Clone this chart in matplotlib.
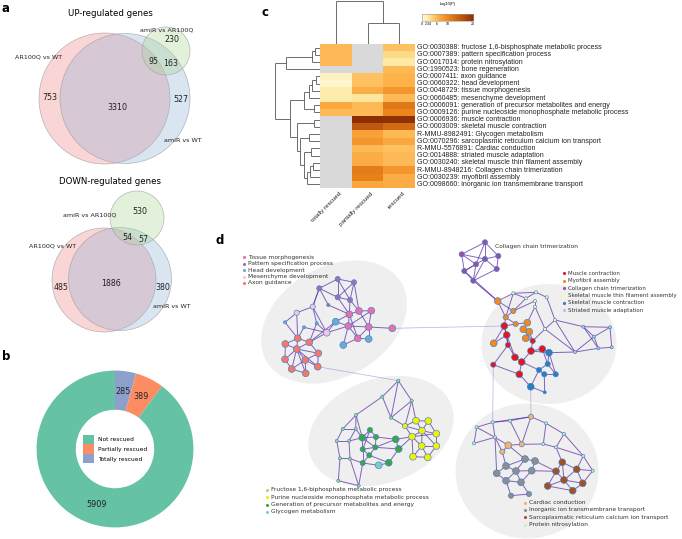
import numpy as np
import matplotlib
matplotlib.use("Agg")
import matplotlib.pyplot as plt
from matplotlib.patches import Circle, Ellipse, Patch
from matplotlib.collections import LineCollection
from matplotlib.colors import LinearSegmentedColormap

plt.rcParams['font.family'] = 'DejaVu Sans'

# ---------------- panel a : venn counts ----------------
up_sets = ['AR100Q vs WT', 'amiR vs WT', 'amiR vs AR100Q']
up_counts = {'red': 753, 'red_blue': 3310, 'blue': 527, 'green': 230, 'all': 95, 'blue_green': 163}
down_counts = {'red': 485, 'red_blue': 1886, 'blue': 380, 'green': 530, 'all': 54, 'blue_green': 57}

# ---------------- panel b : donut ----------------
rescue_labels = ['Totally rescued', 'Partially rescued', 'Not rescued']
rescue_counts = [285, 389, 5909]
rescue_colors = ['#8da0cb', '#fc8d62', '#66c2a5']

# ---------------- panel c : heatmap ----------------
terms = [
    'GO:0030388: fructose 1,6-bisphosphate metabolic process',
    'GO:0007389: pattern specification process',
    'GO:0017014: protein nitrosylation',
    'GO:1990523: bone regeneration',
    'GO:0007411: axon guidance',
    'GO:0060322: head development',
    'GO:0048729: tissue morphogenesis',
    'GO:0060485: mesenchyme development',
    'GO:0006091: generation of precursor metabolites and energy',
    'GO:0009126: purine nucleoside monophosphate metabolic process',
    'GO:0006936: muscle contraction',
    'GO:0003009: skeletal muscle contraction',
    'R-MMU-8982491: Glycogen metabolism',
    'GO:0070296: sarcoplasmic reticulum calcium ion transport',
    'R-MMU-5576891: Cardiac conduction',
    'GO:0014888: striated muscle adaptation',
    'GO:0030240: skeletal muscle thin filament assembly',
    'R-MMU-8948216: Collagen chain trimerization',
    'GO:0030239: myofibril assembly',
    'GO:0098660: inorganic ion transmembrane transport',
]
hm_cols = ['totally rescued', 'partially rescued', 'rescued']
nan = np.nan
totally = [5.5, 5.5, 5.5, nan, 1.2, 0.8, 2.0, 2.0, 7.0, 5.5, nan, nan, nan, nan, nan, nan, nan, nan, nan, nan]
partially = [nan, nan, nan, nan, 5.0, 5.0, 6.5, 2.5, 5.5, 5.5, 20.0, 15.0, 7.5, 8.5, 5.5, 6.5, 6.5, 11.0, 10.5, 7.0]
rescued = [5.0, 3.5, 2.3, 5.5, 6.0, 6.0, 8.5, 5.5, 11.5, 10.0, 19.5, 13.0, 5.5, 7.0, 5.0, 5.5, 5.5, 8.5, 6.5, 6.5]
cbar_ticks = [0, 2.34, 6, 10, 20]
# row dendrogram merges: (a, b, join x in px); ids >= 20 are earlier merges
row_merges = [(0, 1, 315), (20, 2, 312), (21, 3, 286), (4, 5, 316), (23, 6, 312),
              (24, 7, 309), (8, 9, 314), (25, 26, 304), (10, 11, 314), (12, 13, 309),
              (14, 15, 311), (16, 17, 313), (31, 18, 310), (32, 19, 307), (30, 33, 304),
              (29, 34, 300), (28, 35, 297), (27, 36, 290), (22, 37, 275)]
col_merges = [(1, 2, 23), (0, 3, 1)]

# ---------------- panel d : network ----------------
term_colors = {
    'tissue': '#eb6eb0', 'pattern': '#a070b5', 'head': '#6fa8d3', 'mesen': '#f5c6dd',
    'axon': '#f4776a', 'fructose': '#a6dc6e', 'purine': '#f2f200', 'generation': '#3aa645',
    'glycogen': '#80cdc5', 'muscle': '#e3161b', 'myofibril': '#f5871f', 'collagen': '#9a4ea6',
    'thin': '#fff9b0', 'skeletal': '#2b7cc0', 'striated': '#bfbde0', 'cardiac': '#fbb265',
    'inorganic': '#8e8e8e', 'sarco': '#a5501e', 'nitro': '#cfecc8',
}
node_area = {'S': 5, 'M': 14, 'L': 24}

tl_nodes = [
    (337.7, 279.0, 'M', 'pattern'), (354.0, 282.3, 'M', 'pattern'), (319.3, 288.3, 'M', 'pattern'),
    (337.7, 297.3, 'M', 'pattern'), (350.0, 300.0, 'M', 'pattern'), (328.3, 305.0, 'S', 'pattern'),
    (312.7, 306.7, 'M', 'mesen'), (296.7, 312.7, 'M', 'mesen'), (326.7, 332.7, 'L', 'mesen'),
    (349.3, 314.3, 'L', 'tissue'), (359.0, 311.0, 'L', 'tissue'), (371.3, 310.7, 'L', 'tissue'),
    (348.3, 326.0, 'L', 'tissue'), (368.7, 327.0, 'L', 'tissue'), (392.3, 328.3, 'L', 'tissue'),
    (357.7, 338.3, 'L', 'tissue'), (335.7, 321.7, 'L', 'head'), (343.3, 345.0, 'L', 'head'),
    (368.7, 339.0, 'L', 'head'), (316.7, 323.3, 'S', 'head'), (304.0, 327.3, 'S', 'head'),
    (285.0, 322.3, 'S', 'head'), (297.7, 338.3, 'L', 'axon'), (309.3, 342.3, 'L', 'axon'),
    (285.3, 344.0, 'L', 'axon'), (296.7, 349.0, 'L', 'axon'), (318.3, 353.3, 'L', 'axon'),
    (285.0, 359.3, 'L', 'axon'), (305.3, 360.0, 'L', 'axon'), (317.7, 366.7, 'L', 'axon'),
    (291.7, 369.0, 'L', 'axon'), (305.7, 373.3, 'L', 'axon'),
]
tl_edges = [(0, 1), (0, 2), (0, 3), (1, 3), (1, 4), (2, 3), (2, 5), (3, 4), (4, 9), (3, 9), (1, 10),
            (0, 4), (2, 6), (5, 9), (4, 10), (9, 10), (10, 11), (9, 12), (12, 13), (10, 13), (11, 13),
            (13, 14), (12, 15), (15, 13), (9, 15), (11, 12), (12, 16), (16, 9), (15, 18), (13, 18),
            (17, 12), (17, 15), (6, 7), (6, 8), (7, 21), (8, 16), (6, 2), (8, 19), (8, 23), (7, 22),
            (8, 12), (6, 19), (20, 8), (21, 22), (22, 25), (23, 25), (24, 25), (25, 26), (25, 27),
            (25, 28), (25, 29), (25, 30), (25, 31), (22, 23), (28, 29), (28, 31), (30, 31), (27, 30),
            (22, 24), (23, 26), (26, 29), (24, 27), (28, 30), (26, 28), (20, 22), (19, 23), (16, 23)]

bl_nodes = [
    (398.3, 380.7, 'S', 'fructose'), (382.3, 396.7, 'S', 'fructose'), (411.7, 400.7, 'S', 'fructose'),
    (356.0, 415.0, 'S', 'fructose'), (391.0, 417.7, 'S', 'fructose'), (342.7, 429.0, 'S', 'fructose'),
    (355.7, 429.0, 'S', 'fructose'), (336.7, 441.0, 'S', 'fructose'), (349.0, 441.0, 'S', 'fructose'),
    (340.0, 458.3, 'S', 'fructose'), (350.0, 458.7, 'S', 'fructose'), (338.3, 480.7, 'S', 'fructose'),
    (358.7, 485.7, 'S', 'fructose'), (370.0, 430.0, 'M', 'generation'), (362.3, 437.7, 'L', 'generation'),
    (376.0, 437.0, 'M', 'generation'), (362.7, 449.3, 'M', 'generation'), (375.3, 447.3, 'M', 'generation'),
    (395.7, 439.3, 'L', 'generation'), (398.7, 449.0, 'L', 'generation'), (369.3, 455.3, 'M', 'generation'),
    (362.7, 463.0, 'M', 'generation'), (388.7, 462.7, 'L', 'generation'), (378.7, 465.3, 'L', 'glycogen'),
    (416.0, 420.7, 'L', 'purine'), (428.3, 421.0, 'L', 'purine'), (405.0, 426.0, 'M', 'purine'),
    (422.0, 430.7, 'L', 'purine'), (412.0, 436.7, 'L', 'purine'), (436.3, 433.7, 'L', 'purine'),
    (421.7, 446.0, 'L', 'purine'), (436.3, 446.0, 'L', 'purine'), (413.0, 456.7, 'L', 'purine'),
    (427.7, 457.3, 'L', 'purine'),
]
bl_edges = [(0, 1), (0, 2), (1, 4), (2, 4), (1, 3), (3, 5), (3, 6), (5, 6), (5, 7), (6, 8), (7, 8),
            (7, 9), (8, 10), (9, 10), (9, 11), (10, 12), (11, 12), (0, 4), (2, 24), (4, 26), (3, 14),
            (6, 14), (8, 14), (10, 21), (12, 21), (2, 26), (13, 14), (13, 15), (14, 15), (14, 16),
            (15, 17), (16, 17), (14, 17), (16, 20), (17, 20), (20, 21), (17, 18), (18, 19), (17, 19),
            (19, 22), (20, 22), (21, 23), (22, 23), (16, 21), (13, 16), (15, 18), (18, 28), (19, 28),
            (24, 25), (24, 26), (24, 27), (25, 27), (26, 28), (27, 28), (27, 29), (28, 30), (27, 30),
            (29, 31), (30, 31), (28, 32), (30, 32), (30, 33), (31, 33), (32, 33), (26, 27), (28, 29),
            (27, 31), (25, 29)]

rt_nodes = [
    (485.0, 242.3, 'M', 'collagen'), (461.7, 254.3, 'M', 'collagen'), (498.3, 256.0, 'M', 'collagen'),
    (485.0, 259.0, 'M', 'collagen'), (476.0, 264.3, 'M', 'collagen'), (464.3, 271.0, 'M', 'collagen'),
    (496.7, 269.0, 'M', 'collagen'), (473.3, 280.7, 'M', 'collagen'), (497.7, 301.0, 'L', 'myofibril'),
    (513.3, 311.0, 'M', 'myofibril'), (505.7, 317.3, 'M', 'myofibril'), (515.7, 324.0, 'M', 'myofibril'),
    (527.3, 322.7, 'L', 'myofibril'), (523.3, 329.3, 'L', 'myofibril'), (529.3, 331.7, 'L', 'myofibril'),
    (525.7, 338.3, 'L', 'myofibril'), (493.7, 343.3, 'L', 'myofibril'), (504.3, 326.0, 'L', 'muscle'),
    (506.7, 335.0, 'L', 'muscle'), (532.7, 341.0, 'M', 'muscle'), (508.0, 345.0, 'M', 'muscle'),
    (531.0, 351.0, 'L', 'muscle'), (542.3, 349.0, 'L', 'muscle'), (515.0, 357.3, 'L', 'muscle'),
    (521.7, 362.0, 'L', 'muscle'), (493.3, 364.7, 'M', 'muscle'), (519.3, 374.3, 'L', 'muscle'),
    (549.0, 352.7, 'L', 'skeletal'), (547.7, 364.0, 'M', 'skeletal'), (539.0, 370.0, 'M', 'skeletal'),
    (544.3, 374.3, 'M', 'skeletal'), (555.7, 374.3, 'M', 'skeletal'), (530.7, 386.7, 'L', 'skeletal'),
    (544.7, 392.3, 'S', 'skeletal'), (526.0, 298.3, 'S', 'thin'), (536.0, 292.3, 'S', 'thin'),
    (535.0, 301.0, 'S', 'thin'), (546.7, 297.3, 'S', 'thin'), (535.0, 306.7, 'S', 'thin'),
    (555.0, 320.0, 'S', 'thin'), (545.0, 329.0, 'S', 'thin'), (513.3, 293.3, 'S', 'thin'),
    (583.3, 326.7, 'S', 'striated'), (610.0, 327.3, 'S', 'striated'), (594.0, 336.7, 'S', 'striated'),
    (611.7, 347.3, 'S', 'striated'), (598.3, 348.3, 'S', 'striated'), (575.0, 352.0, 'S', 'striated'),
]
rt_edges = [(0, 3), (0, 4), (0, 2), (1, 4), (1, 3), (2, 3), (3, 6), (3, 5), (4, 5), (4, 7), (5, 7),
            (6, 7), (2, 6), (1, 5), (3, 7), (0, 1), (7, 8), (5, 8), (8, 9), (8, 10), (9, 10), (10, 11),
            (11, 12), (12, 13), (13, 14), (14, 15), (11, 17), (17, 18), (10, 17), (18, 20), (17, 20),
            (16, 17), (16, 18), (20, 23), (23, 24), (24, 26), (19, 21), (21, 22), (19, 14), (15, 19),
            (18, 23), (25, 20), (25, 26), (21, 24), (22, 27), (21, 27), (13, 19), (9, 34), (9, 36),
            (12, 38), (34, 35), (35, 37), (36, 38), (37, 39), (39, 40), (40, 19), (38, 40), (41, 8),
            (41, 35), (41, 34), (10, 41), (27, 28), (28, 29), (29, 30), (30, 31), (28, 31), (27, 31),
            (29, 32), (32, 33), (30, 33), (26, 32), (24, 29), (22, 28), (42, 43), (42, 44), (43, 45),
            (44, 46), (45, 46), (42, 46), (43, 44), (39, 42), (40, 47), (47, 46), (47, 44), (27, 47),
            (39, 47)]

rb_nodes = [
    (531.0, 416.7, 'M', 'cardiac'), (508.3, 445.3, 'L', 'cardiac'), (502.3, 451.7, 'M', 'cardiac'),
    (521.7, 444.3, 'M', 'cardiac'), (474.0, 443.3, 'S', 'nitro'), (476.7, 427.3, 'S', 'nitro'),
    (492.7, 422.3, 'S', 'nitro'), (510.0, 420.7, 'S', 'nitro'), (546.0, 423.3, 'S', 'nitro'),
    (564.0, 434.0, 'S', 'nitro'), (543.3, 444.0, 'S', 'nitro'), (556.0, 447.3, 'S', 'nitro'),
    (583.3, 456.0, 'S', 'nitro'), (592.7, 470.7, 'S', 'nitro'), (495.0, 437.3, 'S', 'nitro'),
    (525.0, 459.0, 'L', 'inorganic'), (535.0, 461.0, 'L', 'inorganic'), (506.0, 466.0, 'L', 'inorganic'),
    (516.0, 471.0, 'L', 'inorganic'), (531.7, 470.7, 'L', 'inorganic'), (496.7, 473.3, 'L', 'inorganic'),
    (506.0, 480.7, 'L', 'inorganic'), (521.0, 482.3, 'L', 'inorganic'), (529.0, 494.0, 'M', 'inorganic'),
    (511.0, 495.7, 'M', 'inorganic'), (562.3, 462.3, 'L', 'sarco'), (556.0, 471.3, 'L', 'sarco'),
    (576.7, 469.3, 'L', 'sarco'), (564.0, 480.0, 'L', 'sarco'), (582.7, 483.3, 'L', 'sarco'),
    (547.7, 486.0, 'L', 'sarco'), (572.7, 490.7, 'L', 'sarco'),
]
rb_edges = [(0, 6), (0, 7), (0, 8), (0, 3), (6, 7), (5, 6), (4, 5), (4, 14), (5, 14), (14, 1), (1, 2),
            (1, 3), (2, 14), (3, 7), (6, 14), (8, 9), (8, 10), (9, 11), (10, 11), (9, 12), (11, 12),
            (12, 13), (10, 3), (1, 15), (2, 17), (15, 16), (15, 17), (15, 18), (16, 19), (17, 18),
            (18, 19), (17, 20), (18, 21), (18, 22), (19, 22), (20, 21), (21, 22), (22, 23), (21, 24),
            (23, 24), (16, 26), (19, 26), (25, 26), (25, 27), (25, 28), (26, 28), (27, 28), (27, 29),
            (28, 29), (28, 31), (29, 31), (26, 30), (28, 30), (30, 31), (11, 25), (12, 27), (13, 29),
            (13, 27), (20, 14)]

legend_tl = [('Tissue morphogenesis', 'tissue'), ('Pattern specification process', 'pattern'),
             ('Head development', 'head'), ('Mesenchyme development', 'mesen'), ('Axon guidance', 'axon')]
legend_bl = [('Fructose 1,6-biphosphate metabolic process', 'fructose'),
             ('Purine nucleoside monophosphate metabolic process', 'purine'),
             ('Generation of precursor metabolites and energy', 'generation'),
             ('Glycogen metabolism', 'glycogen')]
legend_rt = [('Muscle contraction', 'muscle'), ('Myofibril assembly', 'myofibril'),
             ('Collagen chain trimerization', 'collagen'),
             ('Skeletal muscle thin filament assembly', 'thin'),
             ('Skeletal muscle contraction', 'skeletal'), ('Striated muscle adaptation', 'striated')]
legend_rb = [('Cardiac conduction', 'cardiac'), ('Inorganic ion transmembrane transport', 'inorganic'),
             ('Sarcoplasmatic reticulum calcium ion transport', 'sarco'),
             ('Protein nitrosylation', 'nitro')]

W, H = 682, 539
fig = plt.figure(figsize=(W / 100, H / 100), dpi=100)
ax = fig.add_axes([0, 0, 1, 1])
ax.set_xlim(0, W)
ax.set_ylim(H, 0)
ax.axis('off')


def fig_rect(x0, y0, x1, y1):
    return [x0 / W, 1 - y1 / H, (x1 - x0) / W, (y1 - y0) / H]


# panel labels
for lab, (lx, ly) in zip('abcd', [(2, 8), (2, 356), (262, 13), (216, 240)]):
    ax.text(lx, ly, lab, fontsize=8.5, fontweight='bold', va='center', ha='left')


# ---------------- a ----------------
def venn(red, blue, green, counts, pos, title, title_y, label_pos):
    for (cx, cy, r), col in zip([red, blue, green], ['#f08080', '#8fb0d8', '#a8d890']):
        ax.add_patch(Circle((cx, cy), r, facecolor=col, alpha=0.33, edgecolor='none'))
        ax.add_patch(Circle((cx, cy), r, facecolor='none', edgecolor='#9a9a9a', lw=0.5, alpha=0.7))
    ax.text(110, title_y, title, fontsize=6.2, ha='center', va='center')
    for key, (tx, ty) in pos.items():
        ax.text(tx, ty, str(counts[key]), fontsize=5.7, ha='center', va='center', color='#222222')
    for name, (tx, ty) in zip(up_sets, label_pos):
        ax.text(tx, ty, name, fontsize=4.6, ha='center', va='center', color='#222222')


venn((104.5, 98.5, 65.5), (125, 98.5, 65), (166, 51, 24), up_counts,
     {'red': (50, 98), 'red_blue': (117, 107), 'blue': (181, 100), 'green': (172, 40),
      'all': (153, 61), 'blue_green': (171, 63)},
     'UP-regulated genes', 14, [(39, 57), (183, 141), (167, 30)])
venn((104, 280, 52), (120, 279, 51.5), (137, 218, 27), down_counts,
     {'red': (61, 287), 'red_blue': (111, 283), 'blue': (163, 287), 'green': (140, 212),
      'all': (127, 238), 'blue_green': (143, 239)},
     'DOWN-regulated genes', 181, [(53, 246), (172, 307), (90, 215)])

# ---------------- b ----------------
axp = fig.add_axes(fig_rect(35, 369, 195, 529))
axp.pie(rescue_counts, colors=rescue_colors, startangle=90, counterclock=False,
        labels=[str(c) for c in rescue_counts], labeldistance=0.74,
        wedgeprops=dict(width=0.5, edgecolor='none'),
        textprops=dict(fontsize=5.9, ha='center', va='center', color='#222222'))
axp.set_xlim(-1.02, 1.02)
axp.set_ylim(-1.02, 1.02)
handles = [Patch(facecolor=c, edgecolor='none') for c in rescue_colors[::-1]]
axp.legend(handles, rescue_labels[::-1], loc='center', frameon=False, fontsize=4.2,
           handlelength=1.9, handleheight=2.0, labelspacing=0.12, handletextpad=0.6,
           borderaxespad=0)

# ---------------- c ----------------
cmap = LinearSegmentedColormap.from_list('mscape', [(0, '#fffbe4'), (0.117, '#feeaa4'),
                                                     (0.3, '#fdb24a'), (0.5, '#ee861c'),
                                                     (1.0, '#8c2d04')])
cmap.set_bad('#d9d9d9')
hm = np.array([totally, partially, rescued]).T
hx0, hx1, hy0, hy1 = 320, 415, 44, 188
axh = fig.add_axes(fig_rect(hx0, hy0, hx1, hy1))
axh.imshow(np.ma.masked_invalid(hm), cmap=cmap, vmin=0, vmax=20, aspect='auto',
           interpolation='nearest')
axh.axis('off')

row_h = (hy1 - hy0) / len(terms)
col_w = (hx1 - hx0) / len(hm_cols)
for i, t in enumerate(terms):
    ax.text(hx1 + 2, hy0 + row_h * (i + 0.5), t, fontsize=5.0, family='Liberation Sans',
            va='center', ha='left', color='#222222')
for j, c in enumerate(hm_cols):
    ax.text(hx0 + col_w * (j + 0.5) + 3, hy1 + 3, c, fontsize=4.5, family='Liberation Sans',
            rotation=45, ha='right', va='top', rotation_mode='anchor', color='#222222')


def dendro(leaf_pos, base, merges, horizontal):
    pos = list(leaf_pos)
    hgt = [base] * len(leaf_pos)
    segs = []
    for a, b, h in merges:
        pa, pb = pos[a], pos[b]
        if horizontal:
            segs += [[(hgt[a], pa), (h, pa)], [(hgt[b], pb), (h, pb)], [(h, pa), (h, pb)]]
        else:
            segs += [[(pa, hgt[a]), (pa, h)], [(pb, hgt[b]), (pb, h)], [(pa, h), (pb, h)]]
        pos.append((pa + pb) / 2)
        hgt.append(h)
    ax.add_collection(LineCollection(segs, colors='#555555', linewidths=0.6))


dendro([hy0 + row_h * (i + 0.5) for i in range(len(terms))], hx0, row_merges, True)
dendro([hx0 + col_w * (j + 0.5) for j in range(len(hm_cols))], hy0, col_merges, False)

axc = fig.add_axes(fig_rect(422, 14, 473, 21))
axc.imshow(np.linspace(0, 20, 200)[None, :], cmap=cmap, aspect='auto', extent=(0, 20, 0, 1))
axc.set_xticks([])
axc.set_yticks([])
for s in axc.spines.values():
    s.set_color('#999999')
    s.set_linewidth(0.4)
ax.text(447.5, 3.5, '-log10(P)', fontsize=2.8, ha='center', va='center', family='Liberation Sans')
for tv in cbar_ticks:
    ax.text(422 + tv / 20 * 51, 24, f'{tv:g}', fontsize=2.6, ha='center', va='center',
            family='Liberation Sans')

# ---------------- d ----------------
for (cx, cy, w, h, ang) in [(334, 322, 156, 110, -30), (381, 431, 150, 104, -20),
                            (549, 344, 135, 120, 0), (527, 471, 143, 135, 0)]:
    ax.add_patch(Ellipse((cx, cy), w, h, angle=ang, facecolor='#efefef', edgecolor='none', zorder=1))

clusters = [(tl_nodes, tl_edges), (bl_nodes, bl_edges), (rt_nodes, rt_edges), (rb_nodes, rb_edges)]
for nodes, edges in clusters:
    segs = [[nodes[a][:2], nodes[b][:2]] for a, b in edges]
    ax.add_collection(LineCollection(segs, colors='#5226a6', linewidths=0.7, alpha=0.7, zorder=2))
# links between clusters
bridge = [[tl_nodes[14][:2], rt_nodes[17][:2]], [rt_nodes[32][:2], rb_nodes[0][:2]],
          [rt_nodes[25][:2], rb_nodes[6][:2]], [tl_nodes[29][:2], bl_nodes[0][:2]],
          [rt_nodes[8][:2], rt_nodes[7][:2]]]
ax.add_collection(LineCollection(bridge, colors='#7a5cc0', linewidths=0.5, alpha=0.5, zorder=2))

for nodes, _ in clusters:
    xs = [n[0] for n in nodes]
    ys = [n[1] for n in nodes]
    ss = [node_area[n[2]] for n in nodes]
    cs = [term_colors[n[3]] for n in nodes]
    ax.scatter(xs, ys, s=ss, c=cs, edgecolors='#3d85c6', linewidths=0.45, zorder=3)

ax.text(495, 246.7, 'Collagen chain trimerization', fontsize=4.2, ha='left', va='center',
        color='#333333', zorder=4)


def net_legend(entries, x, y0, dy, fs=4.2):
    for k, (name, key) in enumerate(entries):
        yy = y0 + k * dy
        ax.scatter([x], [yy], s=5, c=term_colors[key], marker='o', linewidths=0, zorder=4)
        ax.text(x + 4, yy, name, fontsize=fs, va='center', ha='left', color='#333333', zorder=4)


net_legend(legend_tl, 244, 257.3, 6.4)
net_legend(legend_bl, 266.7, 490, 7.3)
net_legend(legend_rt, 564, 273.3, 7.4, fs=3.95)
net_legend(legend_rb, 525, 502.7, 7.3)

fig.savefig('out.png', dpi=100)
